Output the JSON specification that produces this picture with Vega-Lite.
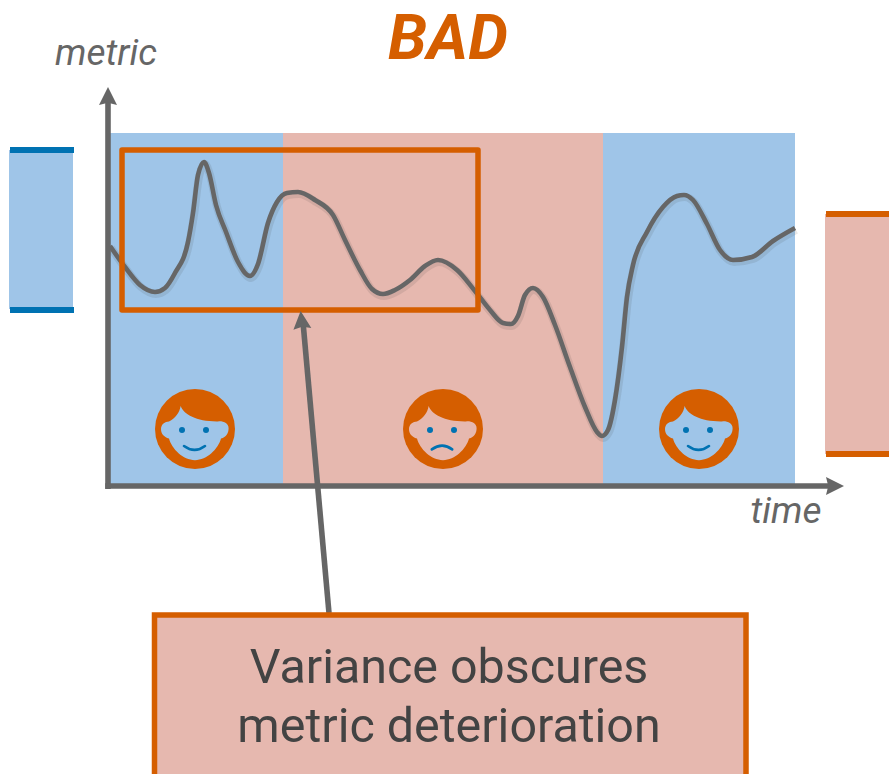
{
  "$schema": "https://vega.github.io/schema/vega-lite/v6.json",
  "width": 889,
  "height": 774,
  "padding": 0,
  "autosize": {"type": "none"},
  "background": "white",
  "config": {"view": {"stroke": null}},
  "datasets": {
    "bands": [
      {"x": 110, "x2": 283, "y": 133, "y2": 484, "tone": "good"},
      {"x": 283, "x2": 603, "y": 133, "y2": 484, "tone": "bad"},
      {"x": 603, "x2": 795, "y": 133, "y2": 484, "tone": "good"},
      {"x": 9, "x2": 73, "y": 150, "y2": 309, "tone": "good"},
      {"x": 825, "x2": 889, "y": 214, "y2": 454, "tone": "bad"}
    ],
    "caps": [
      {"x": 10, "x2": 74, "y": 150, "tone": "goodEdge"},
      {"x": 10, "x2": 74, "y": 310, "tone": "goodEdge"},
      {"x": 826, "x2": 889, "y": 214, "tone": "badEdge"},
      {"x": 826, "x2": 889, "y": 454, "tone": "badEdge"}
    ],
    "series": [
      {"x": 110, "y": 246}, {"x": 125, "y": 267}, {"x": 140, "y": 285}, {"x": 155, "y": 292},
      {"x": 165, "y": 288}, {"x": 175, "y": 273}, {"x": 188, "y": 242}, {"x": 193, "y": 213},
      {"x": 198, "y": 175}, {"x": 204, "y": 162}, {"x": 209, "y": 173}, {"x": 216, "y": 205},
      {"x": 226, "y": 232}, {"x": 238, "y": 262}, {"x": 250, "y": 276}, {"x": 258, "y": 264},
      {"x": 268, "y": 223}, {"x": 277, "y": 202}, {"x": 287, "y": 193}, {"x": 298, "y": 192},
      {"x": 315, "y": 200}, {"x": 333, "y": 215}, {"x": 345, "y": 240}, {"x": 360, "y": 270},
      {"x": 372, "y": 289}, {"x": 383, "y": 294}, {"x": 395, "y": 290}, {"x": 410, "y": 280},
      {"x": 425, "y": 266}, {"x": 438, "y": 260}, {"x": 457, "y": 270}, {"x": 475, "y": 291},
      {"x": 490, "y": 310}, {"x": 503, "y": 323}, {"x": 511, "y": 324}, {"x": 518, "y": 316},
      {"x": 525, "y": 295}, {"x": 533, "y": 288}, {"x": 543, "y": 297}, {"x": 555, "y": 325},
      {"x": 570, "y": 367}, {"x": 585, "y": 407}, {"x": 597, "y": 432}, {"x": 602, "y": 436},
      {"x": 608, "y": 430}, {"x": 615, "y": 400}, {"x": 622, "y": 347}, {"x": 627, "y": 297},
      {"x": 633, "y": 265}, {"x": 647, "y": 232}, {"x": 663, "y": 207}, {"x": 677, "y": 196},
      {"x": 684, "y": 195}, {"x": 693, "y": 200}, {"x": 707, "y": 224}, {"x": 720, "y": 250},
      {"x": 733, "y": 260}, {"x": 752, "y": 257}, {"x": 773, "y": 241}, {"x": 795, "y": 228}
    ],
    "axes": [
      {"x": 108, "x2": 108, "y": 489, "y2": 100},
      {"x": 105.3, "x2": 830, "y": 486, "y2": 486},
      {"x": 329, "x2": 303, "y": 613, "y2": 322}
    ],
    "arrows": [
      {"x": 108, "y": 96, "heading": -90},
      {"x": 835, "y": 486, "heading": 0},
      {"x": 301.5, "y": 320, "heading": -95.5}
    ],
    "faces": [
      {"x": 195, "y": 429, "mood": "happy", "tone": "good"},
      {"x": 443, "y": 429, "mood": "sad", "tone": "bad"},
      {"x": 699, "y": 429, "mood": "happy", "tone": "good"}
    ],
    "eyes": [
      {"x": 182, "y": 430}, {"x": 206, "y": 430},
      {"x": 430, "y": 430}, {"x": 454, "y": 430},
      {"x": 686, "y": 430}, {"x": 710, "y": 430}
    ],
    "frames": [
      {"x": 122, "x2": 478, "y": 150, "y2": 310}
    ],
    "noteBox": [
      {"x": 154.5, "x2": 746, "y": 615, "y2": 800, "tone": "bad"}
    ]
  },
  "encoding": {
    "x": {"field": "x", "type": "quantitative", "axis": null, "scale": {"domain": [0, 889], "nice": false, "zero": false}},
    "y": {"field": "y", "type": "quantitative", "axis": null, "scale": {"domain": [774, 0], "nice": false, "zero": false}}
  },
  "layer": [
    {
      "data": {"name": "bands"},
      "mark": {"type": "rect"},
      "encoding": {
        "x2": {"field": "x2"}, "y2": {"field": "y2"},
        "color": {"field": "tone", "type": "nominal", "legend": null,
          "scale": {"domain": ["good", "bad", "goodEdge", "badEdge"], "range": ["#9FC5E8", "#E6B8AF", "#0072B2", "#D55E00"]}}
      }
    },
    {
      "data": {"name": "caps"},
      "mark": {"type": "rule", "strokeWidth": 6},
      "encoding": {
        "x2": {"field": "x2"},
        "color": {"field": "tone", "type": "nominal", "legend": null,
          "scale": {"domain": ["good", "bad", "goodEdge", "badEdge"], "range": ["#9FC5E8", "#E6B8AF", "#0072B2", "#D55E00"]}}
      }
    },
    {
      "data": {"name": "series"},
      "mark": {"type": "line", "interpolate": "monotone", "stroke": "#444444", "strokeWidth": 8, "opacity": 0.12, "yOffset": 2, "xOffset": 1},
      "encoding": {}
    },
    {
      "data": {"name": "series"},
      "mark": {"type": "line", "interpolate": "monotone", "stroke": "#666666", "strokeWidth": 4.6},
      "encoding": {}
    },
    {
      "data": {"name": "frames"},
      "mark": {"type": "rect", "fill": null, "stroke": "#D55E00", "strokeWidth": 5.5, "strokeJoin": "round"},
      "encoding": {"x2": {"field": "x2"}, "y2": {"field": "y2"}}
    },
    {
      "data": {"name": "axes"},
      "mark": {"type": "rule", "stroke": "#666666", "strokeWidth": 5.6},
      "encoding": {"x2": {"field": "x2"}, "y2": {"field": "y2"}}
    },
    {
      "data": {"name": "arrows"},
      "transform": [{"filter": "datum.heading === -90"}],
      "mark": {"type": "point", "filled": true, "opacity": 1, "fill": "#666666", "size": 324, "angle": -90, "shape": "M1,0L-1,-1L-0.75,0L-1,1Z"},
      "encoding": {}
    },
    {
      "data": {"name": "arrows"},
      "transform": [{"filter": "datum.heading === 0"}],
      "mark": {"type": "point", "filled": true, "opacity": 1, "fill": "#666666", "size": 324, "angle": 0, "shape": "M1,0L-1,-1L-0.75,0L-1,1Z"},
      "encoding": {}
    },
    {
      "data": {"name": "arrows"},
      "transform": [{"filter": "datum.heading === -95.5"}],
      "mark": {"type": "point", "filled": true, "opacity": 1, "fill": "#666666", "size": 324, "angle": -95.5, "shape": "M1,0L-1,-1L-0.75,0L-1,1Z"},
      "encoding": {}
    },
    {
      "data": {"name": "faces"},
      "mark": {"type": "point", "filled": true, "opacity": 1, "fill": "#D55E00", "size": 6400, "shape": "circle"},
      "encoding": {}
    },
    {
      "data": {"name": "faces"},
      "mark": {"type": "point", "filled": true, "opacity": 1, "size": 6400,
        "shape": "M-.36-.575C-.28-.36 .05-.18 .58-.19C.72-.2 .84-.13 .84-.02C.84 .1 .78 .2 .65 .24C.58 .5 .3 .78 0 .78C-.3 .78 -.58 .5 -.65 .24C-.78 .2 -.85 .12 -.85 0C-.85 -.12 -.75 -.19 -.65 -.19C-.5 -.25 -.38 -.42 -.36 -.575Z"},
      "encoding": {
        "color": {"field": "tone", "type": "nominal", "legend": null,
          "scale": {"domain": ["good", "bad", "goodEdge", "badEdge"], "range": ["#9FC5E8", "#E6B8AF", "#0072B2", "#D55E00"]}}
      }
    },
    {
      "data": {"name": "eyes"},
      "mark": {"type": "point", "filled": true, "opacity": 1, "fill": "#0072B2", "size": 36, "shape": "circle"},
      "encoding": {}
    },
    {
      "data": {"name": "faces"},
      "mark": {"type": "point", "filled": false, "opacity": 1, "stroke": "#0072B2", "strokeWidth": 2.6, "strokeCap": "round", "size": 6400},
      "encoding": {
        "shape": {"field": "mood", "type": "nominal", "legend": null,
          "scale": {"domain": ["happy", "sad"], "range": ["M-.275 .425Q-.01 .62 .25 .425", "M-.28 .51Q-.02 .32 .23 .51"]}}
      }
    },
    {
      "data": {"name": "noteBox"},
      "mark": {"type": "rect", "stroke": "#D55E00", "strokeWidth": 5.5, "clip": true},
      "encoding": {
        "x2": {"field": "x2"}, "y2": {"field": "y2"},
        "color": {"field": "tone", "type": "nominal", "legend": null,
          "scale": {"domain": ["good", "bad", "goodEdge", "badEdge"], "range": ["#9FC5E8", "#E6B8AF", "#0072B2", "#D55E00"]}}
      }
    },
    {
      "data": {"values": [{"x": 448, "y": 59, "label": "BAD"}]},
      "mark": {"type": "text", "font": "Roboto", "fontSize": 63, "fontWeight": "bold", "fontStyle": "italic", "fill": "#D55E00", "align": "center", "baseline": "alphabetic"},
      "encoding": {"text": {"field": "label"}}
    },
    {
      "data": {"values": [{"x": 106, "y": 65, "label": "metric"}, {"x": 786, "y": 523, "label": "time"}]},
      "mark": {"type": "text", "font": "Roboto", "fontSize": 37, "fontStyle": "italic", "fill": "#666666", "align": "center", "baseline": "alphabetic"},
      "encoding": {"text": {"field": "label"}}
    },
    {
      "data": {"values": [{"x": 449, "y": 683, "label": "Variance obscures"}, {"x": 449, "y": 742, "label": "metric deterioration"}]},
      "mark": {"type": "text", "font": "Roboto", "fontSize": 48.4, "fill": "#434343", "align": "center", "baseline": "alphabetic"},
      "encoding": {"text": {"field": "label"}}
    }
  ]
}
